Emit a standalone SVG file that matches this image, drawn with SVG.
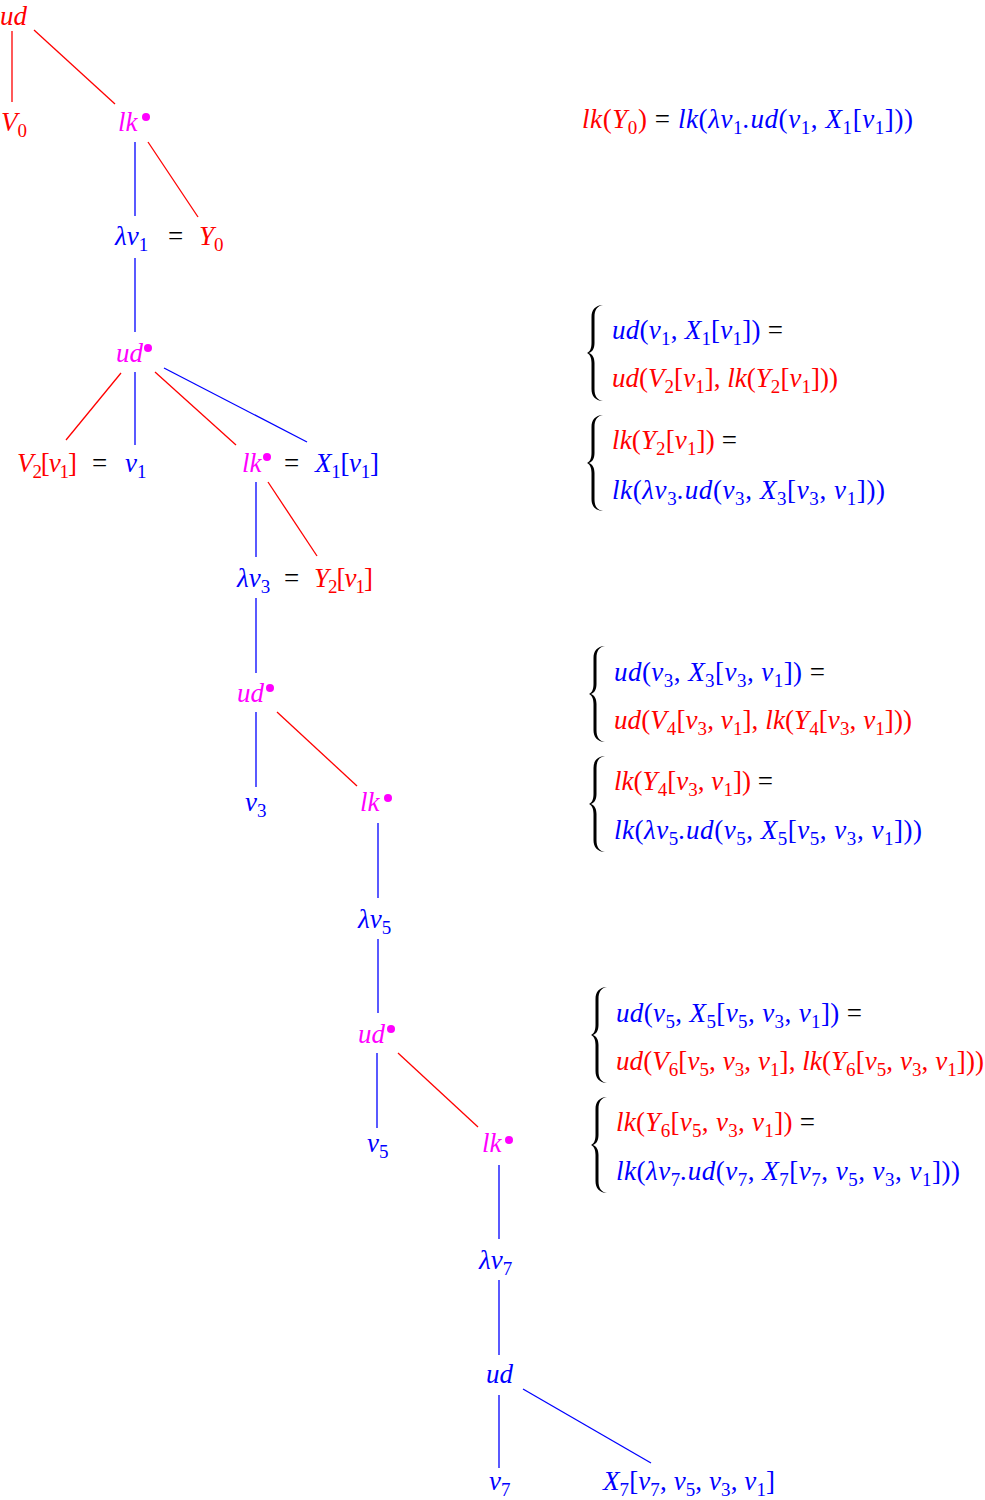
<svg xmlns="http://www.w3.org/2000/svg" xmlns:xlink="http://www.w3.org/1999/xlink" width="985" height="1500" viewBox="0 0 985 1500">
<style>
text{font-family:"Liberation Serif","Times New Roman",serif;font-size:27px;font-style:italic}
.s{font-size:19px;font-style:normal}
.n{font-style:normal}
.r{fill:#ff0000}.b{fill:#0000ff}.m{fill:#ff00ff}.k{fill:#000000}
.lr{stroke:#ff0000;stroke-width:1.3}.lb{stroke:#0000ff;stroke-width:1.3}
.dot{fill:#ff00ff}
.br{fill:#000;stroke:none}
</style>
<defs>
<path id="brace" class="br" d="M16,0 C8,0.5 4.5,5 4.5,12 L4.5,38 C4.5,44 2.5,47 0,48 C2.5,49 4.5,52 4.5,58 L4.5,84 C4.5,91 8,95.5 16,96 C10,95 7.5,91 7.5,84 L7.5,58 C7.5,52 5,49 2,48 C5,47 7.5,44 7.5,38 L7.5,12 C7.5,5 10,1 16,0 Z"/>
</defs>
<rect width="985" height="1500" fill="#fff"/>
<g id="connectors">
<line class="lr" x1="12" y1="31" x2="12" y2="102"/>
<line class="lr" x1="34" y1="30" x2="115" y2="104"/>
<line class="lb" x1="135" y1="142" x2="135" y2="216"/>
<line class="lr" x1="148" y1="142" x2="198" y2="217"/>
<line class="lb" x1="135" y1="258" x2="135" y2="332"/>
<line class="lr" x1="121" y1="373" x2="66" y2="440"/>
<line class="lb" x1="135" y1="372" x2="135" y2="445"/>
<line class="lr" x1="155" y1="372" x2="236" y2="445"/>
<line class="lb" x1="164" y1="368" x2="307" y2="442"/>
<line class="lb" x1="256" y1="482" x2="256" y2="557"/>
<line class="lr" x1="268" y1="482" x2="317" y2="556"/>
<line class="lb" x1="256" y1="598" x2="256" y2="673"/>
<line class="lb" x1="256" y1="712" x2="256" y2="787"/>
<line class="lr" x1="277" y1="712" x2="357" y2="786"/>
<line class="lb" x1="378" y1="823" x2="378" y2="898"/>
<line class="lb" x1="378" y1="939" x2="378" y2="1013"/>
<line class="lb" x1="377" y1="1053" x2="377" y2="1128"/>
<line class="lr" x1="398" y1="1053" x2="478" y2="1127"/>
<line class="lb" x1="499" y1="1165" x2="499" y2="1239"/>
<line class="lb" x1="499" y1="1280" x2="499" y2="1355"/>
<line class="lb" x1="499" y1="1395" x2="499" y2="1468"/>
<line class="lb" x1="523" y1="1389" x2="651" y2="1463"/>
</g>
<g id="n_ud0"><text x="0" y="25" class="r">ud</text></g>
<g id="n_V0"><text x="1" y="131" class="r">V<tspan class="s" dy="6">0</tspan></text></g>
<g id="n_lk1"><text x="118" y="131" class="m">lk</text><circle class="dot" cx="146" cy="117" r="4"/></g>
<g id="n_lam1"><text x="115" y="245" class="b">λv<tspan class="s" dy="6">1</tspan></text><text x="168" y="245" class="k n">=</text><text x="199" y="245" class="r">Y<tspan class="s" dy="6">0</tspan></text></g>
<g id="n_ud1"><text x="116" y="362" class="m">ud</text><circle class="dot" cx="148" cy="348" r="4"/></g>
<g id="n_V2"><text x="17" y="472" class="r" textLength="60">V<tspan class="s" dy="6">2</tspan><tspan class="n" dy="-6">[</tspan>v<tspan class="s" dy="6">1</tspan><tspan class="n" dy="-6">]</tspan></text><text x="92" y="472" class="k n">=</text><text x="125" y="472" class="b">v<tspan class="s" dy="6">1</tspan></text></g>
<g id="n_lk2"><text x="242" y="472" class="m">lk</text><circle class="dot" cx="267" cy="457" r="4"/><text x="284" y="472" class="k n">=</text><text x="315" y="472" class="b" textLength="64">X<tspan class="s" dy="6">1</tspan><tspan class="n" dy="-6">[</tspan>v<tspan class="s" dy="6">1</tspan><tspan class="n" dy="-6">]</tspan></text></g>
<g id="n_lam3"><text x="237" y="587" class="b">λv<tspan class="s" dy="6">3</tspan></text><text x="284" y="587" class="k n">=</text><text x="314" y="587" class="r" textLength="59">Y<tspan class="s" dy="6">2</tspan><tspan class="n" dy="-6">[</tspan>v<tspan class="s" dy="6">1</tspan><tspan class="n" dy="-6">]</tspan></text></g>
<g id="n_ud3"><text x="237" y="702" class="m">ud</text><circle class="dot" cx="270" cy="688" r="4"/></g>
<g id="n_v3"><text x="245" y="811" class="b">v<tspan class="s" dy="6">3</tspan></text></g>
<g id="n_lk4"><text x="360" y="811" class="m">lk</text><circle class="dot" cx="388" cy="798" r="4"/></g>
<g id="n_lam5"><text x="358" y="928" class="b">λv<tspan class="s" dy="6">5</tspan></text></g>
<g id="n_ud5"><text x="358" y="1043" class="m">ud</text><circle class="dot" cx="391" cy="1029" r="4"/></g>
<g id="n_v5"><text x="367" y="1152" class="b">v<tspan class="s" dy="6">5</tspan></text></g>
<g id="n_lk6"><text x="482" y="1152" class="m">lk</text><circle class="dot" cx="509" cy="1140" r="4"/></g>
<g id="n_lam7"><text x="479" y="1269" class="b">λv<tspan class="s" dy="6">7</tspan></text></g>
<g id="n_ud7"><text x="486" y="1383" class="b">ud</text></g>
<g id="n_v7"><text x="489" y="1490" class="b">v<tspan class="s" dy="6">7</tspan></text></g>
<g id="n_X7"><text x="603" y="1490" class="b" textLength="172">X<tspan class="s" dy="6">7</tspan><tspan class="n" dy="-6">[</tspan>v<tspan class="s" dy="6">7</tspan><tspan class="n" dy="-6">, </tspan>v<tspan class="s" dy="6">5</tspan><tspan class="n" dy="-6">, </tspan>v<tspan class="s" dy="6">3</tspan><tspan class="n" dy="-6">, </tspan>v<tspan class="s" dy="6">1</tspan><tspan class="n" dy="-6">]</tspan></text></g>

<g id="eq0"><text x="582" y="128" textLength="331"><tspan class="r">lk<tspan class="n">(</tspan>Y<tspan class="s" dy="6">0</tspan><tspan class="n" dy="-6">)</tspan></tspan><tspan class="k n"> = </tspan><tspan class="b">lk<tspan class="n">(</tspan>λv<tspan class="s" dy="6">1</tspan><tspan dy="-6">.ud</tspan><tspan class="n">(</tspan>v<tspan class="s" dy="6">1</tspan><tspan class="n" dy="-6">, </tspan>X<tspan class="s" dy="6">1</tspan><tspan class="n" dy="-6">[</tspan>v<tspan class="s" dy="6">1</tspan><tspan class="n" dy="-6">]))</tspan></tspan></text></g>

<g id="eq1">
<use xlink:href="#brace" x="587" y="305"/>
<text x="612" y="339" class="b" textLength="171">ud<tspan class="n">(</tspan>v<tspan class="s" dy="6">1</tspan><tspan class="n" dy="-6">, </tspan>X<tspan class="s" dy="6">1</tspan><tspan class="n" dy="-6">[</tspan>v<tspan class="s" dy="6">1</tspan><tspan class="n" dy="-6">])</tspan><tspan class="k n"> =</tspan></text>
<text x="612" y="387" class="r" textLength="226">ud<tspan class="n">(</tspan>V<tspan class="s" dy="6">2</tspan><tspan class="n" dy="-6">[</tspan>v<tspan class="s" dy="6">1</tspan><tspan class="n" dy="-6">], </tspan>lk<tspan class="n">(</tspan>Y<tspan class="s" dy="6">2</tspan><tspan class="n" dy="-6">[</tspan>v<tspan class="s" dy="6">1</tspan><tspan class="n" dy="-6">]))</tspan></text>
</g>
<g id="eq2">
<use xlink:href="#brace" x="587" y="415"/>
<text x="612" y="449" class="r" textLength="125">lk<tspan class="n">(</tspan>Y<tspan class="s" dy="6">2</tspan><tspan class="n" dy="-6">[</tspan>v<tspan class="s" dy="6">1</tspan><tspan class="n" dy="-6">])</tspan><tspan class="k n"> =</tspan></text>
<text x="612" y="499" class="b" textLength="273">lk<tspan class="n">(</tspan>λv<tspan class="s" dy="6">3</tspan><tspan dy="-6">.ud</tspan><tspan class="n">(</tspan>v<tspan class="s" dy="6">3</tspan><tspan class="n" dy="-6">, </tspan>X<tspan class="s" dy="6">3</tspan><tspan class="n" dy="-6">[</tspan>v<tspan class="s" dy="6">3</tspan><tspan class="n" dy="-6">, </tspan>v<tspan class="s" dy="6">1</tspan><tspan class="n" dy="-6">]))</tspan></text>
</g>
<g id="eq3">
<use xlink:href="#brace" x="589" y="646"/>
<text x="614" y="681" class="b" textLength="211">ud<tspan class="n">(</tspan>v<tspan class="s" dy="6">3</tspan><tspan class="n" dy="-6">, </tspan>X<tspan class="s" dy="6">3</tspan><tspan class="n" dy="-6">[</tspan>v<tspan class="s" dy="6">3</tspan><tspan class="n" dy="-6">, </tspan>v<tspan class="s" dy="6">1</tspan><tspan class="n" dy="-6">])</tspan><tspan class="k n"> =</tspan></text>
<text x="614" y="729" class="r" textLength="298">ud<tspan class="n">(</tspan>V<tspan class="s" dy="6">4</tspan><tspan class="n" dy="-6">[</tspan>v<tspan class="s" dy="6">3</tspan><tspan class="n" dy="-6">, </tspan>v<tspan class="s" dy="6">1</tspan><tspan class="n" dy="-6">], </tspan>lk<tspan class="n">(</tspan>Y<tspan class="s" dy="6">4</tspan><tspan class="n" dy="-6">[</tspan>v<tspan class="s" dy="6">3</tspan><tspan class="n" dy="-6">, </tspan>v<tspan class="s" dy="6">1</tspan><tspan class="n" dy="-6">]))</tspan></text>
</g>
<g id="eq4">
<use xlink:href="#brace" x="589" y="756"/>
<text x="614" y="790" class="r" textLength="159">lk<tspan class="n">(</tspan>Y<tspan class="s" dy="6">4</tspan><tspan class="n" dy="-6">[</tspan>v<tspan class="s" dy="6">3</tspan><tspan class="n" dy="-6">, </tspan>v<tspan class="s" dy="6">1</tspan><tspan class="n" dy="-6">])</tspan><tspan class="k n"> =</tspan></text>
<text x="614" y="839" class="b" textLength="308">lk<tspan class="n">(</tspan>λv<tspan class="s" dy="6">5</tspan><tspan dy="-6">.ud</tspan><tspan class="n">(</tspan>v<tspan class="s" dy="6">5</tspan><tspan class="n" dy="-6">, </tspan>X<tspan class="s" dy="6">5</tspan><tspan class="n" dy="-6">[</tspan>v<tspan class="s" dy="6">5</tspan><tspan class="n" dy="-6">, </tspan>v<tspan class="s" dy="6">3</tspan><tspan class="n" dy="-6">, </tspan>v<tspan class="s" dy="6">1</tspan><tspan class="n" dy="-6">]))</tspan></text>
</g>
<g id="eq5">
<use xlink:href="#brace" x="591" y="987"/>
<text x="616" y="1022" class="b" textLength="246">ud<tspan class="n">(</tspan>v<tspan class="s" dy="6">5</tspan><tspan class="n" dy="-6">, </tspan>X<tspan class="s" dy="6">5</tspan><tspan class="n" dy="-6">[</tspan>v<tspan class="s" dy="6">5</tspan><tspan class="n" dy="-6">, </tspan>v<tspan class="s" dy="6">3</tspan><tspan class="n" dy="-6">, </tspan>v<tspan class="s" dy="6">1</tspan><tspan class="n" dy="-6">])</tspan><tspan class="k n"> =</tspan></text>
<text x="616" y="1070" class="r" textLength="368">ud<tspan class="n">(</tspan>V<tspan class="s" dy="6">6</tspan><tspan class="n" dy="-6">[</tspan>v<tspan class="s" dy="6">5</tspan><tspan class="n" dy="-6">, </tspan>v<tspan class="s" dy="6">3</tspan><tspan class="n" dy="-6">, </tspan>v<tspan class="s" dy="6">1</tspan><tspan class="n" dy="-6">], </tspan>lk<tspan class="n">(</tspan>Y<tspan class="s" dy="6">6</tspan><tspan class="n" dy="-6">[</tspan>v<tspan class="s" dy="6">5</tspan><tspan class="n" dy="-6">, </tspan>v<tspan class="s" dy="6">3</tspan><tspan class="n" dy="-6">, </tspan>v<tspan class="s" dy="6">1</tspan><tspan class="n" dy="-6">]))</tspan></text>
</g>
<g id="eq6">
<use xlink:href="#brace" x="591" y="1097"/>
<text x="616" y="1131" class="r" textLength="199">lk<tspan class="n">(</tspan>Y<tspan class="s" dy="6">6</tspan><tspan class="n" dy="-6">[</tspan>v<tspan class="s" dy="6">5</tspan><tspan class="n" dy="-6">, </tspan>v<tspan class="s" dy="6">3</tspan><tspan class="n" dy="-6">, </tspan>v<tspan class="s" dy="6">1</tspan><tspan class="n" dy="-6">])</tspan><tspan class="k n"> =</tspan></text>
<text x="616" y="1180" class="b" textLength="344">lk<tspan class="n">(</tspan>λv<tspan class="s" dy="6">7</tspan><tspan dy="-6">.ud</tspan><tspan class="n">(</tspan>v<tspan class="s" dy="6">7</tspan><tspan class="n" dy="-6">, </tspan>X<tspan class="s" dy="6">7</tspan><tspan class="n" dy="-6">[</tspan>v<tspan class="s" dy="6">7</tspan><tspan class="n" dy="-6">, </tspan>v<tspan class="s" dy="6">5</tspan><tspan class="n" dy="-6">, </tspan>v<tspan class="s" dy="6">3</tspan><tspan class="n" dy="-6">, </tspan>v<tspan class="s" dy="6">1</tspan><tspan class="n" dy="-6">]))</tspan></text>
</g>
</svg>
